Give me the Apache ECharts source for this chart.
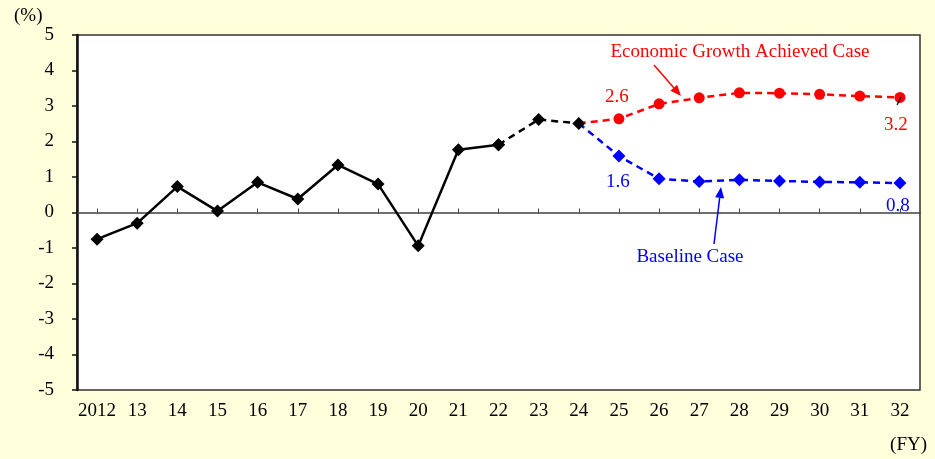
<!DOCTYPE html>
<html>
<head>
<meta charset="utf-8">
<script src="https://cdn.jsdelivr.net/npm/echarts@6/dist/echarts.min.js"></script>
<style>
  html, body { margin: 0; padding: 0; background: #ffffdc; }
  #chart { width: 935px; height: 459px; }
</style>
</head>
<body>
<div id="chart"></div>
<script>
// Fiscal years on the horizontal axis
const years = ['2012', '13', '14', '15', '16', '17', '18', '19', '20', '21', '22',
               '23', '24', '25', '26', '27', '28', '29', '30', '31', '32'];

// Actual results (FY2012-FY2022)
const actual = [-0.75, -0.30, 0.73, 0.04, 0.85, 0.38, 1.34, 0.80, -0.94, 1.77, 1.91];

// Outlook FY2022-FY2024 (dashed black)
const outlook = [1.91, 2.62, 2.51];

// Economic Growth Achieved Case (FY2024-FY2032)
const growthCase = [2.51, 2.64, 3.06, 3.23, 3.37, 3.36, 3.33, 3.28, 3.24];

// Baseline Case (FY2024-FY2032)
const baselineCase = [2.51, 1.59, 0.95, 0.87, 0.92, 0.89, 0.86, 0.85, 0.83];

const FONT = '"Liberation Serif", "Times New Roman", serif';

const IDX_OUTLOOK = years.indexOf('22');
const IDX_CASES = years.indexOf('24');
const IDX_25 = years.indexOf('25');
const IDX_32 = years.indexOf('32');

function pad(arr, startIdx) {
  const out = years.map(() => null);
  arr.forEach((v, i) => { out[startIdx + i] = v; });
  return out;
}

// Case series: first point shares the FY24 marker, extra labels on chosen points
function caseData(arr, labels) {
  const out = pad(arr, IDX_CASES);
  out[IDX_CASES] = { value: out[IDX_CASES], symbol: 'none' };
  Object.keys(labels).forEach(k => {
    const idx = +k;
    out[idx] = { value: out[idx], label: Object.assign({ show: true }, labels[k]) };
  });
  return out;
}

const fmt = p => Number(p.value).toFixed(1);

const chart = echarts.init(document.getElementById('chart'), null, { renderer: 'canvas' });

function arrow(x0, y0, x1, y1, color) {
  const ang = Math.atan2(y1 - y0, x1 - x0);
  const len = 11, w = 4.5;
  const bx = x1 - len * Math.cos(ang), by = y1 - len * Math.sin(ang);
  const nx = -Math.sin(ang), ny = Math.cos(ang);
  return [
    { type: 'line', shape: { x1: x0, y1: y0, x2: bx, y2: by }, style: { stroke: color, lineWidth: 1.5 }, z: 10 },
    { type: 'polygon', shape: { points: [[x1, y1], [bx + nx * w, by + ny * w], [bx - nx * w, by - ny * w]] },
      style: { fill: color }, z: 10 }
  ];
}

chart.setOption({
  backgroundColor: '#ffffdc',
  animation: false,
  grid: {
    left: 77, right: 15, top: 35, bottom: 69,
    show: true, backgroundColor: '#ffffff', borderColor: '#333333', borderWidth: 1.5
  },
  xAxis: [
    {
      type: 'category', data: years, boundaryGap: true,
      axisLine: { onZero: true, lineStyle: { color: '#404040', width: 1.5 } },
      axisTick: { show: true, inside: true, alignWithLabel: true, length: 4, lineStyle: { color: '#404040' } },
      axisLabel: { show: false },
      splitLine: { show: false }
    },
    {
      type: 'category', data: years, boundaryGap: true, position: 'bottom',
      axisLine: { show: false, onZero: false },
      axisTick: { show: false },
      axisLabel: { color: '#000', fontFamily: FONT, fontSize: 19, margin: 12, interval: 0 },
      splitLine: { show: false }
    }
  ],
  yAxis: {
    type: 'value', min: -5, max: 5, interval: 1,
    axisLine: { show: true, lineStyle: { color: '#111', width: 2.5 } },
    axisTick: { show: true, length: 5, lineStyle: { color: '#111', width: 1.5 } },
    axisLabel: { color: '#000', fontFamily: FONT, fontSize: 19, margin: 23 },
    splitLine: { show: false }
  },
  series: [
    {
      name: 'Economic Growth Achieved Case', type: 'line', z: 2,
      data: caseData(growthCase, {
        [IDX_25]: { position: 'top', offset: [-2, -2], formatter: fmt },
        [IDX_32]: { position: 'bottom', offset: [-4, 8], formatter: fmt }
      }),
      symbol: 'circle', symbolSize: 11,
      lineStyle: { color: '#ff0000', width: 2.5, type: [7, 5] },
      itemStyle: { color: '#ff0000' },
      label: { color: '#ff0000', fontFamily: FONT, fontSize: 19 }
    },
    {
      name: 'Baseline Case', type: 'line', z: 2,
      data: caseData(baselineCase, {
        [IDX_25]: { position: 'bottom', offset: [-1, 5], formatter: fmt },
        [IDX_32]: { position: 'bottom', offset: [-2, 2], formatter: fmt }
      }),
      symbol: 'diamond', symbolSize: 13,
      lineStyle: { color: '#0000ff', width: 2.5, type: [7, 5] },
      itemStyle: { color: '#0000ff' },
      label: { color: '#0000ff', fontFamily: FONT, fontSize: 19 }
    },
    {
      name: 'Outlook', type: 'line', z: 3,
      data: pad(outlook, IDX_OUTLOOK),
      symbol: 'diamond', symbolSize: 13,
      lineStyle: { color: '#000', width: 2.5, type: [7, 5] },
      itemStyle: { color: '#000' }
    },
    {
      name: 'Actual', type: 'line', z: 4,
      data: pad(actual, 0),
      symbol: 'diamond', symbolSize: 13,
      lineStyle: { color: '#000', width: 2.5 },
      itemStyle: { color: '#000' }
    }
  ],
  graphic: [
    { type: 'text', left: 14, top: 7, style: { text: '(%)', font: '19px ' + FONT, fill: '#000' } },
    { type: 'text', right: 8, top: 436, style: { text: '(FY)', font: '19px ' + FONT, fill: '#000' } },
    { type: 'text', x: 740, y: 52, style: { text: 'Economic Growth Achieved Case', font: '19px ' + FONT, fill: '#ff0000', align: 'center', verticalAlign: 'middle' }, z: 10 },
    { type: 'text', x: 690, y: 257, style: { text: 'Baseline Case', font: '19px ' + FONT, fill: '#0000ff', align: 'center', verticalAlign: 'middle' }, z: 10 },
    ...arrow(654, 65, 681, 96, '#ff0000'),
    ...arrow(714, 244, 721, 187, '#0000ff'),
    { type: 'line', shape: { x1: 897, y1: 105, x2: 901, y2: 97 }, style: { stroke: '#000', lineWidth: 1.2 }, z: 10 }
  ]
});
</script>
</body>
</html>
